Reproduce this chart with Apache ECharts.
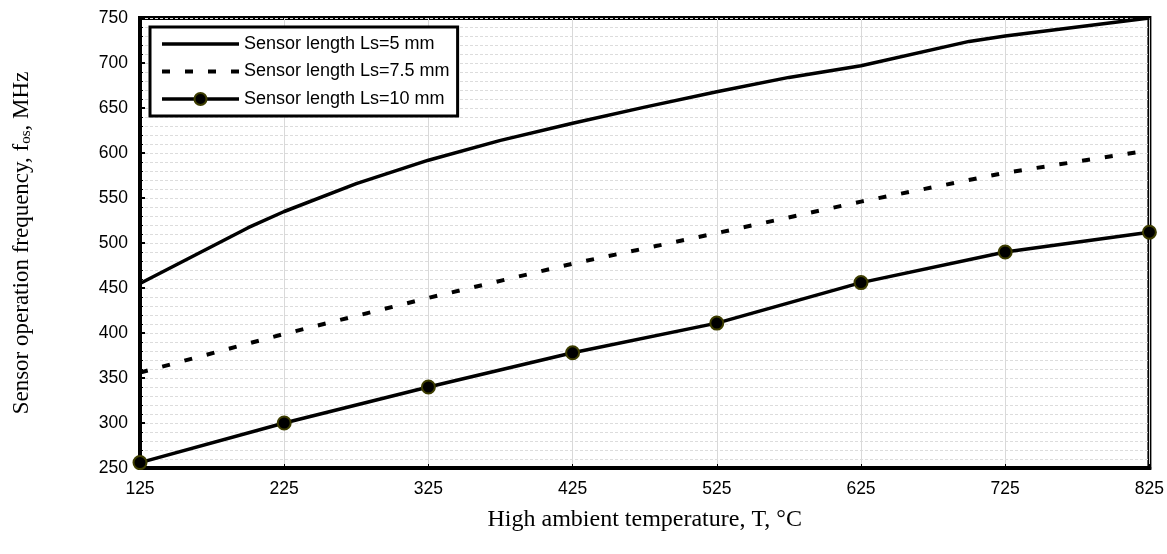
<!DOCTYPE html>
<html>
<head>
<meta charset="utf-8">
<script src="https://cdn.jsdelivr.net/npm/echarts@6/dist/echarts.min.js"></script>
<style>
html,body{margin:0;padding:0;background:#fff;}
#chart{width:1167px;height:554px;}
</style>
</head>
<body>
<div id="chart"></div>
<script>
// ---- data ----
const seriesNames = ['Sensor length Ls=5 mm', 'Sensor length Ls=7.5 mm', 'Sensor length Ls=10 mm'];
const xTickValues = [125, 225, 325, 425, 525, 625, 725, 825];

const temps5 = [125, 200, 225, 275, 325, 375, 425, 475, 525, 575, 625, 700, 725, 825];
const freq5  = [455, 517, 535, 566, 592, 614, 633, 651, 668, 684, 697, 724, 730, 750];

const temps75 = [125, 225, 325, 425, 525, 625, 725, 825];
const freq75  = [356, 399, 439, 477, 511, 546, 578, 603];

const temps10 = [125, 225, 325, 425, 525, 625, 725, 825];
const freq10  = [256, 300, 340, 378, 411, 456, 490, 512];

function pairs(xs, ys) { return xs.map((x, i) => [x, ys[i]]); }

const chart = echarts.init(document.getElementById('chart'), null, {renderer: 'canvas'});
const sans = 'Liberation Sans, Arial, sans-serif';
const serif = 'Liberation Serif, Times New Roman, serif';

const option = {
  animation: false,
  backgroundColor: '#fff',
  grid: {
    left: 140, right: 17, top: 18, bottom: 86,
    show: true, borderColor: '#000', borderWidth: 4
  },
  legend: {
    orient: 'vertical',
    left: 150, top: 27,
    itemWidth: 77, itemHeight: 15, itemGap: 9.5,
    padding: [8, 8, 8, 10],
    borderColor: '#000', borderWidth: 3, backgroundColor: '#fff',
    textStyle: {fontFamily: sans, fontSize: 18, color: '#000'},
    data: [
      {name: seriesNames[0], itemStyle: {opacity: 0}, lineStyle: {width: 3.5}},
      {name: seriesNames[1], itemStyle: {opacity: 0}, lineStyle: {width: 4}},
      {name: seriesNames[2], lineStyle: {width: 3.5}}
    ]
  },
  xAxis: {
    type: 'value', min: 125, max: 825, interval: 100,
    name: 'High ambient temperature, T, \u00B0C',
    nameLocation: 'middle', nameGap: 40,
    nameTextStyle: {fontFamily: serif, fontSize: 24, color: '#000'},
    axisLine: {show: true, lineStyle: {color: '#000', width: 4}},
    axisTick: {show: true, inside: true, length: 4, customValues: xTickValues, lineStyle: {color: '#000', width: 1}},
    axisLabel: {customValues: xTickValues, margin: 12, fontFamily: sans, fontSize: 17.5, color: '#000'},
    splitLine: {show: true, lineStyle: {color: '#d9d9d9', width: 1}}
  },
  yAxis: {
    type: 'value', min: 250, max: 750, interval: 50,
    name: 'Sensor operation frequency, f{sub|os}, MHz',
    nameLocation: 'middle', nameGap: 106, nameRotate: 90,
    nameTextStyle: {
      fontFamily: serif, fontSize: 23, color: '#000',
      rich: {sub: {fontFamily: serif, fontSize: 15, color: '#000', verticalAlign: 'bottom', padding: [9, 0, 0, 0]}}
    },
    axisLine: {show: true, lineStyle: {color: '#000', width: 4}},
    axisTick: {show: true, inside: true, length: 5, lineStyle: {color: '#000', width: 2}},
    minorTick: {show: true, splitNumber: 5, length: 3, lineStyle: {color: '#000', width: 1}},
    axisLabel: {margin: 12, fontFamily: sans, fontSize: 17.5, color: '#000'},
    splitLine: {show: true, lineStyle: {color: '#dcdcdc', width: 1, type: [3, 2]}},
    minorSplitLine: {show: true, lineStyle: {color: '#dcdcdc', width: 1, type: [3, 2]}}
  },
  series: [
    {
      name: seriesNames[0], type: 'line', data: pairs(temps5, freq5),
      symbol: 'none', lineStyle: {color: '#000', width: 3.5}, itemStyle: {color: '#000'}
    },
    {
      name: seriesNames[1], type: 'line', data: pairs(temps75, freq75),
      symbol: 'none', lineStyle: {color: '#000', width: 4, type: [8, 15], cap: 'butt'}, itemStyle: {color: '#000'}
    },
    {
      name: seriesNames[2], type: 'line', data: pairs(temps10, freq10),
      symbol: 'circle', symbolSize: 13, showSymbol: true, clip: false,
      lineStyle: {color: '#000', width: 3.5},
      itemStyle: {color: '#000', borderColor: '#3d3d00', borderWidth: 2}
    }
  ]
};
chart.setOption(option);
</script>
</body>
</html>
